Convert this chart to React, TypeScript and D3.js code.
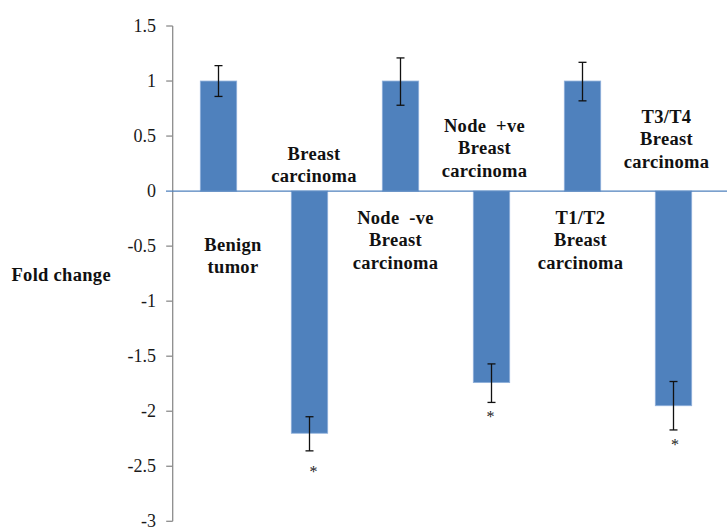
import React from "react";
import * as d3 from "d3";

const categories = ["Benign tumor", "Breast carcinoma", "Node -ve Breast carcinoma", "Node +ve Breast carcinoma", "T1/T2 Breast carcinoma", "T3/T4 Breast carcinoma"];
const labelLines = [
  ["Benign", "tumor"],
  ["Breast", "carcinoma"],
  ["Node  -ve", "Breast", "carcinoma"],
  ["Node  +ve", "Breast", "carcinoma"],
  ["T1/T2", "Breast", "carcinoma"],
  ["T3/T4", "Breast", "carcinoma"],
];
const foldChange = [1.0, -2.2, 1.0, -1.74, 1.0, -1.95];
const errorLow = [0.86, -2.36, 0.78, -1.92, 0.82, -2.17];
const errorHigh = [1.14, -2.05, 1.21, -1.57, 1.17, -1.73];
const significant = [false, true, false, true, false, true];
const yTicks = [1.5, 1, 0.5, 0, -0.5, -1, -1.5, -2, -2.5, -3];
const yAxisTitle = "Fold change";

// layout of the category text boxes (pixel offsets from bar centre, first baseline)
const labelDx = [14.5, 4.5, -5, -7, -2, -7];
const labelBaseline = [251, 159.5, 224, 131.7, 224, 122.7];
const starDx = [4, -1, 1.5];

const W = 727;
const H = 528;
const BAR = "#4F81BD";
const SERIF = "Liberation Serif";

export default function App() {
  const x = d3.scaleBand<string>().domain(categories).range([173, 719]).paddingInner(0.6).paddingOuter(0.3);
  const y = d3.scaleLinear().domain([-3, 1.5]).range([521.3, 26]);
  const axisX = 172.7;
  const fmt = (v: number) => (v === 0 ? "0" : String(v));
  let starIdx = 0;

  return (
    <svg width={W} height={H} style={{ position: "absolute", left: 0, top: 0, background: "#fff" }}>
      <rect x={0} y={0} width={W} height={H} fill="#fff" />
      {/* y axis */}
      <line x1={axisX} x2={axisX} y1={y(1.5)} y2={y(-3)} stroke="#8c8c8c" strokeWidth={1.3} />
      {yTicks.map((t) => (
        <g key={t}>
          {t !== 0 && <line x1={axisX - 6.5} x2={axisX} y1={y(t)} y2={y(t)} stroke="#8c8c8c" strokeWidth={1.3} />}
          <text x={156} y={y(t) + 6} textAnchor="end" fontSize={18} fill="#1a1a1a" fontFamily={SERIF}>{fmt(t)}</text>
        </g>
      ))}
      <text x={11.5} y={281} fontSize={18.5} fontWeight="bold" fill="#111" letterSpacing={0.3} fontFamily={SERIF}>{yAxisTitle}</text>

      {/* bars */}
      {categories.map((c, i) => {
        const v = foldChange[i];
        const y0 = y(Math.max(0, v));
        const h = Math.abs(y(v) - y(0));
        return <rect key={c} x={x(c)} y={y0} width={x.bandwidth()} height={h} fill={BAR} stroke="#8fb0db" strokeWidth={0.8} />;
      })}

      {/* zero line */}
      <line x1={166} x2={W} y1={y(0)} y2={y(0)} stroke={BAR} strokeWidth={1.3} />

      {/* error bars */}
      {categories.map((c, i) => {
        const cx = (x(c) as number) + x.bandwidth() / 2;
        return (
          <g key={"e" + c} stroke="#111" strokeWidth={1.3}>
            <line x1={cx} x2={cx} y1={y(errorHigh[i])} y2={y(errorLow[i])} />
            <line x1={cx - 4} x2={cx + 4} y1={y(errorHigh[i])} y2={y(errorHigh[i])} />
            <line x1={cx - 4} x2={cx + 4} y1={y(errorLow[i])} y2={y(errorLow[i])} />
          </g>
        );
      })}

      {/* significance stars */}
      {categories.map((c, i) => {
        if (!significant[i]) return null;
        const cx = (x(c) as number) + x.bandwidth() / 2 + starDx[starIdx];
        const off = starIdx === 0 ? 26.5 : 20;
        starIdx++;
        return (
          <text key={"s" + c} x={cx} y={y(errorLow[i]) + off} textAnchor="middle" fontSize={16} fill="#222" fontFamily={SERIF}>*</text>
        );
      })}

      {/* category labels */}
      {categories.map((c, i) => {
        const cx = (x(c) as number) + x.bandwidth() / 2 + labelDx[i];
        return (
          <text key={"l" + c} textAnchor="middle" fontSize={18.5} fontWeight="bold" fill="#111" letterSpacing={0.3} fontFamily={SERIF}>
            {labelLines[i].map((ln, j) => (
              <tspan key={j} x={cx} y={labelBaseline[i] + j * 22.4} style={{ whiteSpace: "pre" }}>{ln}</tspan>
            ))}
          </text>
        );
      })}
    </svg>
  );
}
